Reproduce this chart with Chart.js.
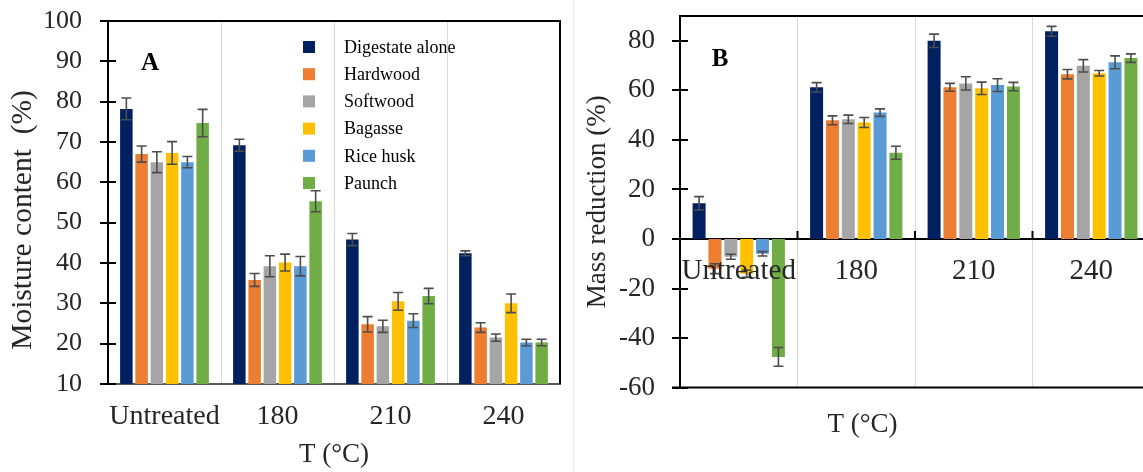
<!DOCTYPE html>
<html>
<head>
<meta charset="utf-8">
<script src="https://cdn.jsdelivr.net/npm/chart.js@4.4.0/dist/chart.umd.min.js"></script>
<style>
  body { margin: 0; background: #fff; width: 1143px; height: 472px; overflow: hidden; position: relative; }
  #boxA { position: absolute; left: 0; top: 0; width: 570px; height: 472px; }
  #boxB { position: absolute; left: 575px; top: 0; width: 568px; height: 472px; overflow: hidden; }
  #split { position: absolute; left: 573px; top: 0; width: 1px; height: 472px; background: #ececec; }
</style>
</head>
<body>
<div id="boxA"><canvas id="chartA" width="570" height="472"></canvas></div>
<div id="split"></div>
<div id="boxB"><canvas id="chartB" width="576" height="472"></canvas></div>
<script>
// categories + series
const categories = ['Untreated', '180', '210', '240'];
const seriesNames = ['Digestate alone', 'Hardwood', 'Softwood', 'Bagasse', 'Rice husk', 'Paunch'];
const seriesColors = ['#002060', '#ED7D31', '#A5A5A5', '#FFC000', '#5B9BD5', '#70AD47'];

// A - moisture content (%)
const moistDigestate = [78.2, 69.2, 45.8, 42.4];
const moistHardwood  = [67.0, 35.8, 24.8, 24.0];
const moistSoftwood  = [65.0, 39.2, 24.3, 21.5];
const moistBagasse   = [67.3, 40.1, 30.5, 30.0];
const moistRice      = [65.0, 39.2, 25.7, 20.3];
const moistPaunch    = [74.7, 55.3, 31.8, 20.3];
const moistErrDigestate = [2.7, 1.5, 1.5, 0.6];
const moistErrHardwood  = [2.0, 1.6, 1.9, 1.2];
const moistErrSoftwood  = [2.6, 2.6, 1.5, 0.9];
const moistErrBagasse   = [2.8, 2.1, 2.2, 2.3];
const moistErrRice      = [1.4, 2.4, 1.7, 0.8];
const moistErrPaunch    = [3.4, 2.6, 1.9, 0.8];
const moistTicks = { min: 10, max: 100, step: 10 };

// B - mass reduction (%)
const massDigestate = [14.4, 61.2, 80.0, 83.8];
const massHardwood  = [-12.0, 47.9, 61.2, 66.5];
const massSoftwood  = [-7.2, 48.3, 62.8, 69.9];
const massBagasse   = [-14.0, 47.0, 60.8, 66.9];
const massRice      = [-6.0, 51.0, 62.1, 71.3];
const massPaunch    = [-47.6, 34.8, 61.5, 73.0];
const massErrDigestate = [2.7, 1.9, 2.7, 2.0];
const massErrHardwood  = [2.0, 1.8, 1.6, 1.9];
const massErrSoftwood  = [1.0, 1.7, 2.7, 2.5];
const massErrBagasse   = [1.5, 2.0, 2.5, 1.1];
const massErrRice      = [0.9, 1.5, 2.6, 2.6];
const massErrPaunch    = [3.8, 2.6, 1.7, 1.7];
const massTicks = { min: -60, max: 90, step: 10 };

const SERIF = '"Liberation Serif", "Times New Roman", serif';
const TXT = '#262626';

function makeSets(vals, errs) {
  return vals.map(function (v, i) {
    return {
      label: seriesNames[i],
      data: v,
      err: errs[i],
      backgroundColor: seriesColors[i],
      borderWidth: 0,
      categoryPercentage: 0.81,
      barPercentage: 0.82
    };
  });
}

// error bars from the scales
const errorBars = {
  id: 'errorBars',
  afterDatasetsDraw(chart) {
    const ctx = chart.ctx;
    const ys = chart.scales.y;
    ctx.save();
    ctx.strokeStyle = '#4d4d4d';
    ctx.lineWidth = 1.6;
    chart.data.datasets.forEach(function (ds, di) {
      const meta = chart.getDatasetMeta(di);
      meta.data.forEach(function (bar, i) {
        const v = ds.data[i], e = ds.err[i];
        const y1 = ys.getPixelForValue(v + e), y2 = ys.getPixelForValue(v - e);
        const x = bar.x;
        ctx.beginPath();
        ctx.moveTo(x, y1); ctx.lineTo(x, y2);
        ctx.moveTo(x - 5, y1); ctx.lineTo(x + 5, y1);
        ctx.moveTo(x - 5, y2); ctx.lineTo(x + 5, y2);
        ctx.stroke();
      });
    });
    ctx.restore();
  }
};

// y tick marks crossing the axis, frame lines, panel letter, legend
const decor = {
  id: 'decor',
  afterDraw(chart, args, opts) {
    const ctx = chart.ctx;
    const a = chart.chartArea;
    const ys = chart.scales.y;
    ctx.save();
    ctx.strokeStyle = '#000';
    ctx.lineWidth = 2;
    ctx.beginPath();
    ys.ticks.forEach(function (t) {
      const y = Math.round(ys.getPixelForValue(t.value));
      const major = (t.value % opts.major === 0);
      ctx.moveTo(a.left - (major ? 8 : 0), y);
      ctx.lineTo(a.left + 8, y);
    });
    ctx.stroke();

    ctx.beginPath();
    ctx.moveTo(a.left - 1, a.top); ctx.lineTo(a.right + 1, a.top);
    if (opts.rightBorder) { ctx.moveTo(a.right, a.top); ctx.lineTo(a.right, a.bottom); }
    if (opts.bottomBorder) { ctx.moveTo(a.left - 8, a.bottom); ctx.lineTo(a.right, a.bottom); }
    ctx.stroke();

    if (opts.zeroTicks) {
      const xs = chart.scales.x;
      const y0 = ys.getPixelForValue(0);
      ctx.beginPath();
      for (let i = 0; i < categories.length - 1; i++) {
        const bx = (xs.getPixelForTick(i) + xs.getPixelForTick(i + 1)) / 2;
        ctx.moveTo(bx, y0); ctx.lineTo(bx, y0 - 8);
      }
      ctx.stroke();
    }

    ctx.fillStyle = '#000';
    ctx.font = 'bold 25px ' + SERIF;
    ctx.textAlign = 'center';
    ctx.textBaseline = 'middle';
    ctx.fillText(opts.letter, a.left + opts.letterDx, opts.letterY);

    if (opts.yTitle) {
      ctx.save();
      ctx.fillStyle = TXT;
      ctx.font = opts.yTitle.size + 'px ' + SERIF;
      ctx.translate(opts.yTitle.x, opts.yTitle.y);
      ctx.rotate(-Math.PI / 2);
      ctx.fillText(opts.yTitle.text, 0, 0);
      ctx.restore();
    }

    if (opts.legend) {
      ctx.font = '18px ' + SERIF;
      ctx.textAlign = 'left';
      chart.data.datasets.forEach(function (ds, i) {
        const y = 47 + i * 27.2;
        ctx.fillStyle = ds.backgroundColor;
        ctx.fillRect(303, y - 6, 12, 12);
        ctx.fillStyle = '#000';
        ctx.fillText(ds.label, 344, y + 1);
      });
    }
    ctx.restore();
  }
};

const chartA = new Chart(document.getElementById('chartA'), {
  type: 'bar',
  data: {
    labels: categories,
    datasets: makeSets(
      [moistDigestate, moistHardwood, moistSoftwood, moistBagasse, moistRice, moistPaunch],
      [moistErrDigestate, moistErrHardwood, moistErrSoftwood, moistErrBagasse, moistErrRice, moistErrPaunch])
  },
  options: {
    responsive: false,
    animation: false,
    layout: { padding: { top: 21, right: 10, left: 0, bottom: 0 } },
    plugins: {
      legend: { display: false },
      tooltip: { enabled: false },
      decor: {
        major: 10, rightBorder: true, letter: 'A', letterDx: 42, letterY: 64, legend: true,
        yTitle: { text: 'Moisture content  (%)', x: 23, y: 220, size: 29.5 }
      }
    },
    scales: {
      x: {
        grid: { color: '#d9d9d9', lineWidth: 1, drawTicks: false },
        border: { color: '#595959', width: 2 },
        ticks: { font: { family: SERIF, size: 28 }, color: TXT, padding: 16, autoSkip: false, maxRotation: 0, minRotation: 0 },
        title: { display: true, text: 'T (°C)', font: { family: SERIF, size: 27 }, color: TXT, padding: { top: 0, bottom: 1 } },
        afterFit(s) { s.height = 88; }
      },
      y: {
        min: moistTicks.min, max: moistTicks.max,
        grid: { display: false, drawTicks: false },
        border: { color: '#000', width: 2 },
        ticks: { stepSize: moistTicks.step, font: { family: SERIF, size: 26 }, color: TXT, padding: 26 },
        afterFit(s) { s.width = 108; s.paddingTop = 0; s.paddingBottom = 0; }
      }
    }
  },
  plugins: [errorBars, decor]
});

const chartB = new Chart(document.getElementById('chartB'), {
  type: 'bar',
  data: {
    labels: categories,
    datasets: makeSets(
      [massDigestate, massHardwood, massSoftwood, massBagasse, massRice, massPaunch],
      [massErrDigestate, massErrHardwood, massErrSoftwood, massErrBagasse, massErrRice, massErrPaunch])
  },
  options: {
    responsive: false,
    animation: false,
    layout: { padding: { top: 16, right: 1, left: 0, bottom: 31 } },
    plugins: {
      legend: { display: false },
      tooltip: { enabled: false },
      title: { display: true, position: 'bottom', text: 'T (°C)', font: { family: SERIF, size: 27, weight: 'normal' }, color: TXT, padding: { top: 21, bottom: 0 } },
      decor: { major: 20, bottomBorder: true, zeroTicks: true, letter: 'B', letterDx: 40, letterY: 60 }
    },
    scales: {
      x: {
        position: { y: 0 },
        grid: { color: '#d9d9d9', lineWidth: 1, drawTicks: false },
        border: { color: '#000', width: 2 },
        ticks: { font: { family: SERIF, size: 29 }, color: TXT, padding: 15, z: 1, autoSkip: false, maxRotation: 0, minRotation: 0 }
      },
      y: {
        min: massTicks.min, max: massTicks.max,
        grid: { display: false, drawTicks: false },
        border: { color: '#000', width: 2 },
        ticks: {
          stepSize: massTicks.step, font: { family: SERIF, size: 27 }, color: TXT, padding: 25,
          callback: function (v) { return (v % 20 === 0 && v < 90) ? v : ''; }
        },
        title: { display: true, text: 'Mass reduction (%)', font: { family: SERIF, size: 27 }, color: TXT, padding: { top: 7, bottom: 0 } },
        afterFit(s) { s.width = 105; s.paddingTop = 0; s.paddingBottom = 0; }
      }
    }
  },
  plugins: [errorBars, decor]
});
</script>
</body>
</html>
